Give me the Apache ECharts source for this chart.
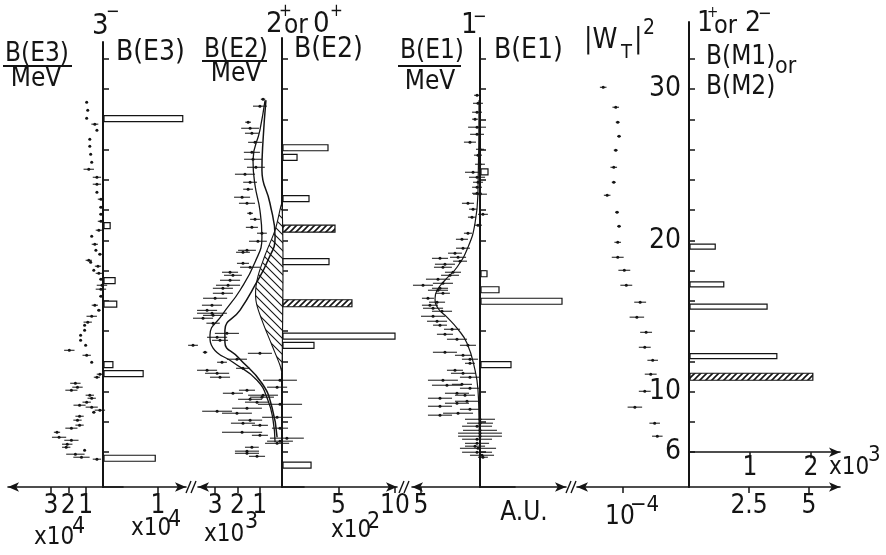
<!DOCTYPE html>
<html>
<head>
<meta charset="utf-8">
<script src="https://cdn.jsdelivr.net/npm/echarts@6/dist/echarts.min.js"></script>
<style>
  html, body { margin: 0; padding: 0; background: #fff; }
  #chart { width: 886px; height: 555px; }
</style>
</head>
<body>
<div id="chart"></div>
<script>
// ---------------- data: [energy (MeV), strength, half-width of error bar] ----------------
const e3Distribution = [
  [29.14,0.94,0],[28.61,0.88,0],[28.08,0.94,0],[27.69,0.47,0.2],[27.29,0.35,0],[26.69,0.76,0],
  [26.23,0.76,0],[25.70,0.71,0],[25.17,0.65,0],[24.71,0.82,0.3],[24.18,0.35,0.24],[23.72,0.35,0.24],
  [23.19,0.35,0],[22.73,0.12,0.18],[22.20,0.12,0.1],[21.74,0.12,0.1],[21.27,0.12,0.18],[20.68,0.24,0.18],
  [20.28,0.65,0],[19.75,0.47,0.18],[19.36,0.41,0],[19.09,0.18,0.1],[18.69,0.82,0.18],[18.56,0.71,0],
  [18.30,0.29,0.18],[18.03,0.53,0],[17.83,0.24,0.18],[17.44,0.12,0.1],[17.04,0.06,0.3],[16.78,0.12,0.3],
  [16.31,0.12,0.1],[15.72,0.47,0.18],[15.39,0.24,0.1],[14.99,0.65,0.3],[14.60,0.88,0.24],[14.40,1.06,0],
  [14.07,1.06,0],[13.74,1.29,0],[13.40,1.29,0],[13.07,1.00,0],[12.74,1.94,0.3],[12.41,0.94,0.24],
  [11.95,0.65,0],[11.16,0.18,0.18],[10.96,0.35,0.18],[10.56,1.59,0.3],[10.30,1.47,0.3],[10.10,1.82,0.35],
  [9.77,0.76,0.24],[9.57,0.65,0.24],[9.31,0.94,0.24],[9.11,1.35,0.35],[8.98,0.65,0.35],[8.78,0.18,0.3],
  [8.64,0.53,0.1],[8.38,1.35,0.24],[8.12,1.47,0.24],[7.79,1.35,0.24],[7.59,1.82,0.35],[7.32,2.65,0.18],
  [6.99,2.53,0.41],[6.79,1.82,0.41],[6.53,2.06,0.3],[6.33,2.12,0.24],[6.13,1.06,0],[5.87,1.59,0.53],
  [5.67,1.24,0.47],[5.54,0.35,0.24]
];
// [energy, B(E3) in 1e4]
const e3Levels = [[28.05,1.45],[20.98,0.13],[17.34,0.22],[15.79,0.25],[11.79,0.18],[11.19,0.73],[5.60,0.95]];

const e2Distribution = [
  [29.34,0.85,0.1],[28.88,0.99,0.31],[27.82,1.52,0.13],[27.42,1.43,0.4],[27.09,1.35,0.31],[26.49,1.21,0.31],
  [25.83,1.35,0.36],[25.37,1.30,0.4],[24.84,1.17,0.4],[24.38,1.66,0.45],[23.85,1.43,0.31],[23.39,1.52,0.22],
  [22.86,1.79,0.36],[22.46,1.57,0.36],[21.80,1.43,0.13],[21.40,1.21,0.22],[20.87,1.35,0.27],[20.48,0.90,0.22],
  [19.95,1.08,0.4],[19.35,1.57,0.4],[19.22,1.75,0.31],[18.49,1.75,0.27],[18.23,1.43,0.45],[17.90,2.33,0.36],
  [17.70,2.20,0.4],[17.37,2.33,0.45],[17.04,2.42,0.54],[16.84,2.65,0.45],[16.51,2.65,0.45],[16.18,3.00,0.54],
  [15.72,3.14,0.45],[15.38,3.36,0.45],[15.19,3.14,0.67],[15.05,3.09,0.45],[14.86,3.54,0.45],[14.53,3.09,0.3],
  [13.86,2.47,0.54],[13.60,2.91,0.45],[13.40,2.78,0.36],[13.07,3.99,0.22],[12.61,3.45,0.1],[12.54,0.99,0.54],
  [12.15,2.02,0.45],[11.95,2.69,0.22],[11.55,1.75,0.31],[11.42,3.36,0.45],[11.22,2.91,0.54],[10.96,2.78,0.45],
  [10.76,0.09,0.76],[10.30,0.22,0.45],[10.10,1.57,0.36],[9.90,2.20,0.45],[9.77,0.85,0.67],[9.64,0.90,0.54],
  [9.50,1.43,0.54],[9.31,1.12,0.54],[9.17,0.09,0.99],[8.91,1.57,0.67],[8.71,2.91,0.67],[8.58,2.02,0.67],
  [8.31,0.22,0.67],[8.12,1.43,0.54],[7.92,1.75,0.54],[7.78,0.99,0.36],[7.59,0.09,0.36],[7.32,1.79,0.9],
  [7.12,0.99,0.36],[6.93,-0.22,0.76],[6.73,0.09,0.58],[6.59,0.22,0.54],[6.33,1.35,0.31],[6.07,1.57,0.54],
  [5.93,1.57,0.54],[5.73,1.12,0.36]
];
// model curves for the E2 distribution: [energy, B(E2)/MeV in 1e3]
const e2CurveOuter = [
  [29.27,0.76],[27.29,0.99],[25.31,1.30],[23.65,1.21],[22.00,0.99],[20.21,0.90],[18.56,1.21],[16.71,1.88],
  [15.06,2.69],[13.73,3.23],[12.88,3.09],[11.95,2.20],[10.76,1.12],[9.44,0.63],[8.11,0.40],[6.66,0.31]
];
const e2CurveInner = [
  [29.27,0.72],[26.63,0.85],[24.64,0.90],[22.46,0.54],[20.21,0.31],[18.69,0.63],[17.04,1.21],[15.39,1.88],
  [14.07,2.56],[13.27,2.56],[12.28,1.97],[10.56,0.90],[8.97,0.45],[6.99,0.22]
];
const e2ShadedPart = [
  [22.33,0],[20.68,0.31],[19.02,0.76],[17.37,1.12],[16.05,1.17],[14.73,0.90],[13.07,0.45],[11.75,0.09],[11.29,0]
];
// [energy, B(E2) in 1e2]
const e2LevelsOpen = [[26.13,4.07],[25.50,1.33],[22.76,2.39],[18.60,4.16],[13.67,10.0],[13.07,2.83],[5.14,2.57]];
const e2LevelsShaded = [[20.78,4.69],[15.85,6.19]];

const e1Distribution = [
  [29.60,0.25,0.25],[29.07,0.17,0.42],[28.48,0.25,0.42],[28.02,0.42,0.25],[27.49,0.25,0.76],[27.02,0.25,0.59],
  [26.50,0.85,0.51],[26.03,0,0.34],[25.64,0.17,0.34],[25.04,0,0.42],[24.51,0.59,0.68],[24.18,0.25,0.68],
  [23.85,0.17,0.42],[23.52,0.25,0.42],[23.12,0.25,0.42],[23.06,0,0.59],[22.46,1.02,0.51],[22.07,0.59,0.34],
  [21.73,-0.25,0.42],[21.54,0.68,0.34],[21.01,0.17,0.34],[20.48,1.02,0.34],[20.08,1.53,0.51],[19.49,1.44,0.59],
  [19.16,2.12,0.59],[18.89,1.86,0.68],[18.82,3.39,0.68],[18.63,1.69,0.59],[18.43,2.97,0.85],[18.23,3.14,0.76],
  [17.90,2.29,0.68],[17.70,2.54,0.76],[17.44,3.56,1.02],[17.17,3.14,0.85],[17.04,4.83,0.85],[16.84,3.39,0.68],
  [16.71,3.56,0.85],[16.51,3.14,0.59],[16.18,4.41,0.51],[15.92,3.64,0.68],[15.72,4.24,0.68],[15.52,3.98,0.85],
  [15.32,3.22,0.85],[14.99,3.98,1.02],[14.66,3.64,0.85],[14.40,3.39,0.59],[14.13,2.37,0.68],[13.80,2.97,0.68],
  [13.47,1.95,0.85],[13.07,1.02,0.68],[12.61,2.97,1.02],[12.41,1.44,0.68],[12.15,0.85,0.68],[11.88,0.85,0.42],
  [11.42,2.12,0.68],[11.22,1.44,1.02],[10.96,0.85,0.85],[10.76,3.14,1.27],[10.43,2.80,1.27],[10.49,1.53,0.85],
  [10.23,0.85,0.85],[9.90,1.95,1.02],[9.77,1.27,0.85],[9.57,3.39,1.02],[9.37,1.10,1.02],[9.24,1.95,1.02],
  [9.04,3.39,1.02],[8.84,0.85,0.85],[8.58,1.86,1.27],[8.45,3.39,1.02],[8.18,0,1.27],[7.92,0,1.10],
  [7.72,0.25,1.27],[7.45,0,1.44],[7.26,0,1.86],[7.06,0,1.86],[6.86,0.25,1.27],[6.59,0.25,1.02],
  [6.40,0.42,0.85],[6.26,0.17,1.53],[6.00,0.25,1.27],[5.80,-0.17,1.02],[5.67,-0.25,0.42]
];
const e1Curve = [
  [29.27,0.08],[23.32,0.17],[21.14,0.42],[19.55,1.02],[18.23,1.95],[17.37,2.97],[16.71,3.64],[16.18,3.81],
  [15.52,3.56],[14.93,2.80],[14.20,1.95],[13.21,1.10],[11.42,0.42],[10.10,0.17],[8.11,0.08],[6.20,0.02]
];
// [energy, B(E1) in arbitrary units]
const e1Levels = [[24.54,0.8],[17.80,0.7],[16.74,1.9],[15.98,8.2],[11.79,3.1]];

// [energy, |W_T|^2 in 1e-4, half-width]
const wtDistribution = [
  [30.13,1.30,0.05],[28.81,1.11,0.05],[27.82,1.08,0.03],[26.89,1.06,0.03],[25.97,1.11,0.03],[24.84,1.14,0.05],
  [23.85,1.14,0.03],[22.99,1.24,0.05],[21.87,1.09,0.03],[20.94,1.06,0.03],[19.88,1.08,0.05],[18.89,1.08,0.09],
  [18.03,0.98,0.09],[17.04,0.95,0.09],[15.92,0.74,0.09],[14.93,0.79,0.11],[13.93,0.65,0.09],[12.94,0.67,0.09],
  [12.08,0.55,0.08],[11.16,0.58,0.09],[10.03,0.67,0.09],[8.98,0.82,0.11],[7.92,0.52,0.08],[7.06,0.48,0.08]
];
// [energy, B(M1) or B(M2) in 1e3]
const m1LevelsOpen = [[19.59,0.43],[17.10,0.57],[15.62,1.28],[12.35,1.44]];
const m1LevelsShaded = [[10.99,2.03]];

// tick labels
const energyTickValues = [6,8,10,12,14,16,18,20,22,24,26,28,30,32,34];
const energyLabelValues = [6,10,20,30];
const e3LeftTicks = [1,2,3], e3RightTicks = [1];
const e2LeftTicks = [1,2,3], e2RightTicks = [5,10];
const e1LeftTicks = [5];
const wtTicks = [1];
const m1LowerTicks = [2.5,5], m1UpperTicks = [1,2];

// ---------------- fonts ----------------
function fontAvailable(name) {
  const g = document.createElement('canvas').getContext('2d');
  const sample = 'B(E3) MeV x10 321';
  g.font = '40px monospace';
  const w0 = g.measureText(sample).width;
  g.font = '40px "' + name + '", monospace';
  return g.measureText(sample).width !== w0;
}
const NARROW = fontAvailable('DejaVu Sans Condensed');
const FONT = NARROW ? 'DejaVu Sans Condensed' : 'DejaVu Sans';
const fs = px => Math.round(NARROW ? px * 1.1 : px);

// ---------------- layout ----------------
const INK = '#141414';
const Y_MIN = 3.7;          // energy at the common baseline
const BASE_Y = 487;         // pixel row of the baseline
const PX_PER_MEV = 15.125;
const H = 555;
const energyAtRow = row => Y_MIN + (BASE_Y - row) / PX_PER_MEV;

function hatch(size, rising, width) {
  const c = document.createElement('canvas');
  c.width = c.height = size;
  const g = c.getContext('2d');
  g.fillStyle = '#fff'; g.fillRect(0, 0, size, size);
  g.strokeStyle = INK; g.lineWidth = width; g.beginPath();
  if (rising) {
    g.moveTo(0, size); g.lineTo(size, 0);
    g.moveTo(-2, 2); g.lineTo(2, -2);
    g.moveTo(size - 2, size + 2); g.lineTo(size + 2, size - 2);
  } else {
    g.moveTo(0, 0); g.lineTo(size, size);
    g.moveTo(size - 2, -2); g.lineTo(size + 2, 2);
    g.moveTo(-2, size - 2); g.lineTo(2, size + 2);
  }
  g.stroke();
  return { image: c, repeat: 'repeat' };
}
const barHatch = hatch(6, true, 1.6);
const areaHatch = hatch(8, false, 1.1);

const grids = [], xAxes = [], yAxes = [];
const arrowLine = (ends) => ({ show: true, onZero: false, symbol: ends, symbolSize: [7, 11],
  lineStyle: { color: INK, width: 1.6 } });
const tickStyle = { color: INK, width: 1.5 };
const labelStyle = { color: INK, fontFamily: FONT, fontSize: fs(24), margin: 6 };

function addGrid(left, right, top) {
  grids.push({ left: left, top: top, width: right - left, bottom: H - BASE_Y });
  return grids.length - 1;
}
function addY(gi, top, visible, labels) {
  const max = energyAtRow(top);
  yAxes.push({
    gridIndex: gi, type: 'value', min: Y_MIN, max: max, show: visible,
    axisLine: { show: true, onZero: false, lineStyle: { color: INK, width: 2 } },
    axisTick: { show: true, inside: true, length: 6, lineStyle: tickStyle,
      customValues: energyTickValues.filter(v => v < max - 0.5) },
    axisLabel: labels ? { show: true, customValues: labels, color: INK, fontFamily: FONT, fontSize: fs(25), margin: 8 }
                      : { show: false },
    splitLine: { show: false }
  });
  return yAxes.length - 1;
}
// left half: strength grows leftwards from the vertical axis (inverse axis, arrow at its far end)
function addLeftX(gi, axisX, left, overhang, scale, ticks, showLabels) {
  xAxes.push({
    gridIndex: gi, type: 'value', inverse: true, position: 'bottom',
    min: -overhang / scale, max: (axisX - left) / scale,
    axisLine: arrowLine(['arrow', 'none']),
    axisTick: { show: ticks.length > 0, customValues: ticks, length: 6, lineStyle: tickStyle },
    axisLabel: showLabels ? Object.assign({ customValues: ticks }, labelStyle) : { show: false },
    splitLine: { show: false }
  });
  return xAxes.length - 1;
}
function addRightX(gi, axisX, right, scale, ticks, showLabels, offset) {
  xAxes.push({
    gridIndex: gi, type: 'value', position: 'bottom', offset: offset || 0,
    min: 0, max: (right - axisX) / scale,
    axisLine: arrowLine(['none', 'arrow']),
    axisTick: { show: ticks.length > 0, customValues: ticks, length: 6, lineStyle: tickStyle },
    axisLabel: showLabels ? Object.assign({ customValues: ticks }, labelStyle) : { show: false },
    splitLine: { show: false }
  });
  return xAxes.length - 1;
}

// B(E3)
const gE3L = addGrid(8, 123, 42), gE3R = addGrid(103, 186, 42);
const xE3L = addLeftX(gE3L, 103, 8, 20, 17.36, e3LeftTicks, true);
const yE3L = addY(gE3L, 42, false);
const xE3R = addRightX(gE3R, 103, 186, 55, e3RightTicks, true);
const yE3R = addY(gE3R, 42, true);
// B(E2)
const gE2L = addGrid(198, 304, 38), gE2R = addGrid(282, 397, 38);
const xE2L = addLeftX(gE2L, 282, 198, 22, 22.3, e2LeftTicks, true);
const yE2L = addY(gE2L, 38, false);
const xE2R = addRightX(gE2R, 282, 397, 11.3, e2RightTicks, true);
const yE2R = addY(gE2R, 38, true);
// B(E1)
const gE1L = addGrid(412, 515, 38), gE1R = addGrid(480, 566, 38);
const xE1L = addLeftX(gE1L, 480, 412, 35, 11.8, e1LeftTicks, true);
const yE1L = addY(gE1L, 38, false);
const xE1R = addRightX(gE1R, 480, 566, 10, [], false);
const yE1R = addY(gE1R, 38, true);
// |W_T|^2 and B(M1)/B(M2)
const gWT = addGrid(577, 689, 22), gM1 = addGrid(689, 840, 22);
const xWT = addLeftX(gWT, 689, 577, 0, 66, wtTicks, false);
const yWT = addY(gWT, 22, false);
const xM1Low = addRightX(gM1, 689, 840, 24, m1LowerTicks, true);
// upper scale sits on the 6 MeV line
const xM1Up = addRightX(gM1, 689, 840, 61, m1UpperTicks, true, -(6 - Y_MIN) * PX_PER_MEV);
xAxes[xM1Up].axisLabel.margin = 3;
xAxes[xM1Up].axisLabel.fontSize = fs(24);
xAxes[xM1Low].axisLabel.formatter = v => String(v);
const yM1 = addY(gM1, 22, true, energyLabelValues);

// ---------------- renderers ----------------
function errorBar(params, api) {
  const e = api.value(0), v = api.value(1), d = api.value(2);
  const c = api.coord([v, e]);
  const kids = [{ type: 'circle', shape: { cx: c[0], cy: c[1], r: 1.5 }, style: { fill: INK } }];
  if (d > 0) {
    const a = api.coord([v - d, e]), b = api.coord([v + d, e]);
    kids.unshift({ type: 'line', shape: { x1: a[0], y1: a[1], x2: b[0], y2: b[1] },
      style: { stroke: INK, lineWidth: 1 } });
  }
  return { type: 'group', children: kids };
}
function levelBar(fill, thick) {
  return function (params, api) {
    const e = api.value(0), v = api.value(1);
    const p0 = api.coord([0, e]), p1 = api.coord([v, e]);
    return { type: 'rect',
      shape: { x: p0[0] + 1, y: p0[1] - thick / 2, width: p1[0] - p0[0] - 1, height: thick },
      style: { fill: fill, stroke: INK, lineWidth: 1.2 } };
  };
}
function pointsSeries(data, xi, yi) {
  return { type: 'custom', xAxisIndex: xi, yAxisIndex: yi, data: data,
    encode: { x: 1, y: 0 }, renderItem: errorBar, silent: true };
}
function barsSeries(data, xi, yi, fill, thick) {
  return { type: 'custom', xAxisIndex: xi, yAxisIndex: yi, data: data,
    encode: { x: 1, y: 0 }, renderItem: levelBar(fill, thick), silent: true, z: 3 };
}
function curveSeries(data, xi, yi, width) {
  return { type: 'line', xAxisIndex: xi, yAxisIndex: yi, data: data.map(d => [d[1], d[0]]),
    smooth: 0.5, symbol: 'none', lineStyle: { color: INK, width: width }, silent: true, z: 4 };
}

const series = [
  pointsSeries(e3Distribution, xE3L, yE3L),
  barsSeries(e3Levels, xE3R, yE3R, '#fff', 6),
  {
    type: 'custom', xAxisIndex: xE2L, yAxisIndex: yE2L, data: e2ShadedPart, encode: { x: 1, y: 0 },
    silent: true, z: 1,
    renderItem: function (params, api) {
      if (params.dataIndex !== 0) return null;
      const pts = e2ShadedPart.map(d => api.coord([d[1], d[0]]));
      return { type: 'polygon', shape: { points: pts, smooth: 0.35 },
        style: { fill: areaHatch, stroke: INK, lineWidth: 1.1 } };
    }
  },
  pointsSeries(e2Distribution, xE2L, yE2L),
  curveSeries(e2CurveOuter, xE2L, yE2L, 1.3),
  curveSeries(e2CurveInner, xE2L, yE2L, 1.5),
  barsSeries(e2LevelsOpen, xE2R, yE2R, '#fff', 6),
  barsSeries(e2LevelsShaded, xE2R, yE2R, barHatch, 7),
  pointsSeries(e1Distribution, xE1L, yE1L),
  curveSeries(e1Curve, xE1L, yE1L, 1.2),
  barsSeries(e1Levels, xE1R, yE1R, '#fff', 6),
  pointsSeries(wtDistribution, xWT, yWT),
  barsSeries(m1LevelsOpen, xM1Up, yM1, '#fff', 5),
  barsSeries(m1LevelsShaded, xM1Up, yM1, barHatch, 7)
];

// ---------------- text ----------------
function txt(text, x, y, size, align) {
  return { type: 'text', x: x, y: y, silent: true,
    style: { text: text, fill: INK, fontFamily: FONT, fontSize: fs(size),
      textAlign: align || 'left', textVerticalAlign: 'middle' } };
}
function rule(x1, y1, x2, y2, w) {
  return { type: 'line', silent: true, shape: { x1: x1, y1: y1, x2: x2, y2: y2 },
    style: { stroke: INK, lineWidth: w || 1.6 } };
}
function axisBreak(x) {
  return [rule(x - 5, BASE_Y + 6, x, BASE_Y - 6, 1.4), rule(x, BASE_Y + 6, x + 5, BASE_Y - 6, 1.4)];
}

const graphics = [
  // B(E3)
  txt('B(E3)', 37, 54, 24, 'center'), rule(3, 66, 72, 66, 1.8), txt('MeV', 36, 79, 24, 'center'),
  txt('3', 92, 26, 26), txt('\u2212', 106, 12, 16),
  txt('B(E3)', 116, 53, 25),
  // B(E2)
  txt('B(E2)', 236, 50, 24, 'center'), rule(202, 61, 267, 61, 1.8), txt('MeV', 236, 74, 24, 'center'),
  txt('2', 266, 24, 26), txt('+', 279, 12, 15), txt('or', 284, 26, 24), txt('0', 313, 24, 26), txt('+', 330, 12, 15),
  txt('B(E2)', 294, 50, 25),
  // B(E1)
  txt('B(E1)', 432, 51, 24, 'center'), rule(398, 66, 461, 66, 1.8), txt('MeV', 430, 82, 24, 'center'),
  txt('1', 461, 25, 26), txt('\u2212', 473, 17, 16),
  txt('B(E1)', 494, 51, 25),
  // |W_T|^2
  txt('|W', 584, 41, 25), txt('T', 621, 53, 18), txt('|', 634, 41, 25), txt('2', 643, 29, 19),
  // B(M1) or B(M2)
  txt('1', 697, 24, 25), txt('+', 707, 13, 14), txt('or', 714, 26, 23), txt('2', 745, 24, 25), txt('\u2212', 758, 14, 16),
  txt('B(M1)', 706, 57, 24), txt('or', 775, 67, 21), txt('B(M2)', 706, 87, 24),
  // scale multipliers and units
  txt('x10', 34, 538, 22), txt('4', 72, 527, 21),
  txt('x10', 131, 529, 22), txt('4', 168, 520, 21),
  txt('x10', 204, 535, 22), txt('3', 245, 522, 21),
  txt('x10', 331, 531, 22), txt('2', 367, 522, 21),
  txt('A.U.', 524, 513, 24, 'center'),
  txt('10', 605, 517, 24), txt('\u22124', 630, 505, 20),
  txt('x10', 829, 468, 22), txt('3', 868, 455, 20)
].concat(axisBreak(191), axisBreak(404), axisBreak(571));

const chart = echarts.init(document.getElementById('chart'), null, { renderer: 'canvas' });
chart.setOption({
  animation: false,
  backgroundColor: '#fff',
  textStyle: { fontFamily: FONT },
  grid: grids,
  xAxis: xAxes,
  yAxis: yAxes,
  series: series,
  graphic: { elements: graphics }
});
</script>
</body>
</html>
